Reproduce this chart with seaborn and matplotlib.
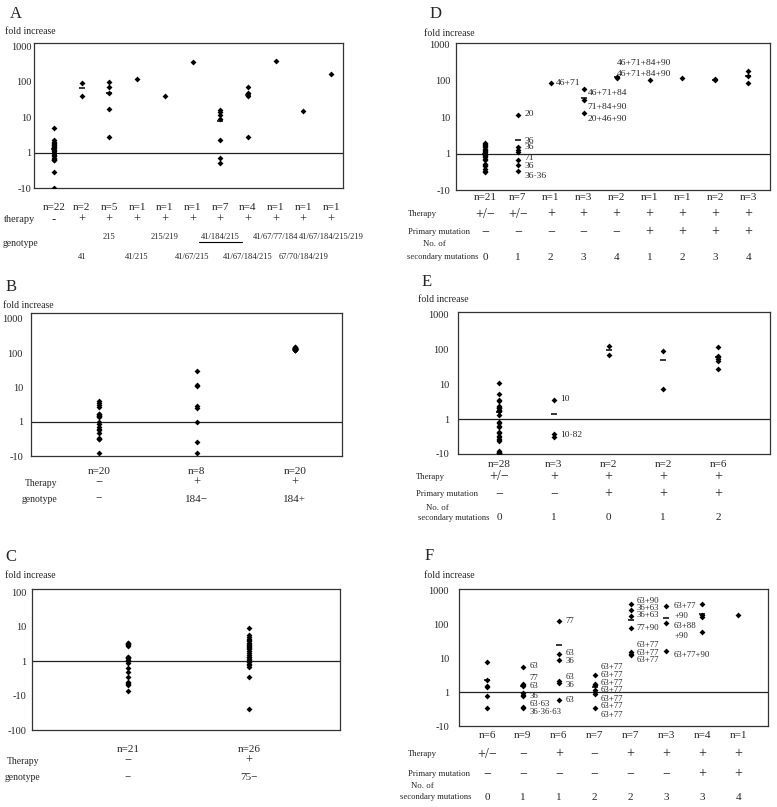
import numpy as np
import pandas as pd
import matplotlib
matplotlib.use("Agg")
import matplotlib.pyplot as plt
import seaborn as sns
from matplotlib.transforms import blended_transform_factory
from matplotlib.ticker import NullLocator
from matplotlib.lines import Line2D

# ---------------- data (fold change; values < 1 are fold decreases) ----------------
A_groups = [
    [5.0, 2.2, 2.0, 1.9, 1.75, 1.6, 1.5, 1.4, 1.3, 1.15, 1.1, 1.0, 1.0, 0.95, 0.87, 0.8, 0.68, 0.65, 0.63, 0.6, 0.29, 0.1],
    [93, 38],
    [100, 72, 49, 17, 2.8],
    [120],
    [40],
    [360],
    [16, 13.5, 11.7, 9, 2.2, 0.72, 0.52],
    [72, 49, 40, 2.8],
    [390],
    [15],
    [165],
]
A_therapy = ["-", "+", "+", "+", "+", "+", "+", "+", "+", "+", "+"]
A_genotype_top = ["", "", "215", "", "215/219", "", "41/184/215", "", "41/67/77/184", "", "41/67/184/215/219"]
A_genotype_bottom = ["", "41", "", "41/215", "", "41/67/215", "", "41/67/184/215", "", "67/70/184/219", ""]

B_groups = [
    [4.0, 3.55, 3.0, 2.6, 1.7, 1.65, 1.6, 1.5, 1.45, 1.4, 1.0, 0.86, 0.72, 0.6, 0.57, 0.48, 0.34, 0.32, 0.31, 0.12],
    [30, 11.5, 10.8, 2.8, 2.5, 0.95, 0.25, 0.12],
    [150, 148, 145, 142, 140, 138, 137, 136, 135, 134, 133, 132, 131, 130, 129, 128, 127, 126, 125, 122],
]
B_therapy = ["\u2212", "+", "+"]
B_genotype = ["\u2212", "184\u2212", "184+"]

C_groups = [
    [3.4, 3.3, 3.2, 3.1, 2.9, 2.7, 1.37, 1.3, 1.25, 1.2, 1.12, 1.0, 0.87, 0.64, 0.47, 0.35, 0.25, 0.24, 0.22, 0.21, 0.14],
    [9, 5.7, 4.9, 4.5, 4.1, 3.8, 3.4, 3.2, 2.9, 2.8, 2.6, 2.5, 2.3, 2.0, 1.7, 1.5, 1.37, 1.3, 1.17, 1.05,
     0.93, 0.85, 0.78, 0.7, 0.35, 0.04],
]
C_therapy = ["\u2212", "+"]
C_genotype = ["\u2212", "75\u2212"]

D_groups = [
    [2.0, 1.85, 1.74, 1.6, 1.47, 1.35, 1.24, 1.15, 1.07, 1.0, 0.92, 0.85, 0.78, 0.7, 0.65, 0.53, 0.5, 0.45, 0.37, 0.33, 0.31],
    [11.6, 1.47, 1.24, 1.07, 0.66, 0.50, 0.33],
    [88],
    [57, 29, 13.2],
    [125, 118],
    [105],
    [121],
    [108, 103],
    [186, 135, 85],
]
D_therapy = ["+/\u2212", "+/\u2212", "+", "+", "+", "+", "+", "+", "+"]
D_primary = ["\u2212", "\u2212", "\u2212", "\u2212", "\u2212", "+", "+", "+", "+"]
D_secondary = ["0", "1", "2", "3", "4", "1", "2", "3", "4"]
D_notes = [(1, 12.4, "20"), (1, 2.25, "36"), (1, 1.47, "36"), (1, 0.77, "71"), (1, 0.45, "36"),
           (1, 0.24, "36\u00b736"), (2, 88, "46+71"), (3, 45, "46+71+84"), (3, 19, "71+84+90"),
           (3, 8.6, "20+46+90"), (4, 300, "46+71+84+90"), (4, 154, "46+71+84+90")]

E_groups = [
    [11, 5.3, 3.4, 3.2, 2.4, 2.2, 2.1, 2.0, 1.85, 1.75, 1.66, 1.27, 0.8, 0.75, 0.62, 0.58, 0.42, 0.4,
     0.33, 0.3, 0.26, 0.25, 0.23, 0.12, 0.115, 0.11, 0.107, 0.105],
    [3.6, 0.37, 0.3],
    [120, 69],
    [90, 7.2],
    [114, 65, 59, 52, 47, 27],
]
E_therapy = ["+/\u2212", "+", "+", "+", "+"]
E_primary = ["\u2212", "\u2212", "+", "+", "+"]
E_secondary = ["0", "1", "0", "1", "2"]
E_notes = [(1, 3.7, "10"), (1, 0.34, "10\u00b782")]

F_groups = [
    [7.5, 2.2, 1.5, 1.4, 0.75, 0.34],
    [5.3, 1.76, 1.65, 1.47, 0.93, 0.84, 0.78, 0.36, 0.34],
    [120, 13.4, 8.9, 2.05, 1.9, 0.6],
    [3.2, 1.76, 1.57, 1.12, 1.0, 0.9, 0.34],
    [400, 250, 175, 76, 15, 13.4, 12],
    [330, 107, 15.8],
    [400, 187, 160, 58],
    [187],
]
F_therapy = ["+/\u2212", "\u2212", "+", "\u2212", "+", "+", "+", "+"]
F_primary = ["\u2212", "\u2212", "\u2212", "\u2212", "\u2212", "\u2212", "+", "+"]
F_secondary = ["0", "1", "1", "2", "2", "3", "3", "4"]
F_notes = [(1, 5.9, "63"), (1, 2.6, "77"), (1, 1.47, "63"), (1, 0.78, "36"), (1, 0.44, "63\u00b763"),
           (1, 0.26, "36\u00b736\u00b763"),
           (2, 120, "77"), (2, 14, "63"), (2, 8.3, "36"), (2, 2.7, "63"), (2, 1.64, "36"), (2, 0.57, "63"),
           (3, 5.6, "63+77"), (3, 3.1, "63+77"), (3, 1.9, "63+77"), (3, 1.15, "63+77"), (3, 0.64, "63+77"),
           (3, 0.38, "63+77"), (3, 0.21, "63+77"),
           (4, 480, "63+90"), (4, 300, "36+63"), (4, 188, "36+63"), (4, 76, "77+90"), (4, 24, "63+77"),
           (4, 14.5, "63+77"), (4, 8.8, "63+77"),
           (5, 330, "63+77"), (5, 176, "+90"), (5, 85, "63+88"), (5, 45, "+90"), (5, 12.5, "63+77+90")]

TICKS3 = [1000, 100, 10, 1, 0.1]
TICKLABELS3 = ["1000", "100", "10", "1", "-10"]
TICKS_C = [100, 10, 1, 0.1, 0.01]
TICKLABELS_C = ["100", "10", "1", "-10", "-100"]

# ---------------- figure ----------------
W, H = 777, 807
sns.set_style("white")
plt.rcParams["font.family"] = ["Liberation Serif", "DejaVu Serif"]
fig = plt.figure(figsize=(W / 100, H / 100), dpi=100)


def fx(x):
    return x / W


def fy(y):
    return 1 - y / H


def panel(rect, groups, xlim, ylog, ticks, ticklabels, n_y, pad, mean=True):
    l, t, r, b = rect
    ax = fig.add_axes([l / W, 1 - b / H, (r - l) / W, (b - t) / H])
    order = [str(i) for i in range(len(groups))]
    df = pd.DataFrame({
        "group": [str(i) for i, g in enumerate(groups) for _ in g],
        "fold": [v for g in groups for v in g],
    })
    sns.stripplot(data=df, x="group", y="fold", order=order, jitter=False, color="black",
                  marker="D", size=3.0, linewidth=0, ax=ax, zorder=3)
    if mean:
        st = df.groupby("group")["fold"].agg(["mean", "size"]).reindex(order)
        st = st[st["size"] > 1]
        ax.scatter([order.index(k) for k in st.index], st["mean"], marker="_", s=24,
                   color="black", linewidths=1.1, zorder=3)
    ax.set_yscale("log")
    ax.set_yticks(ticks)
    ax.set_yticklabels(ticklabels)
    ax.yaxis.set_minor_locator(NullLocator())
    ax.set_ylim(10 ** ylog[0], 10 ** ylog[1])
    ax.set_xlim(*xlim)
    ax.set_xticks([])
    ax.set_xlabel("")
    ax.set_ylabel("")
    ax.tick_params(axis="y", length=0, pad=pad, labelsize=7.5)
    ax.axhline(1, color="#222222", lw=0.9, zorder=2)
    for s in ax.spines.values():
        s.set_visible(True)
        s.set_color("#333333")
        s.set_linewidth(0.9)
    tr = blended_transform_factory(ax.transData, fig.transFigure)
    for i, g in enumerate(groups):
        ax.text(i, fy(n_y), f"n={len(g)}", transform=tr, ha="center", va="center", fontsize=8)
    return ax, tr


def row(ax, tr, y, labels, fs):
    out = []
    for i, s in enumerate(labels):
        if s:
            out.append(ax.text(i, fy(y), s, transform=tr, ha="center", va="center", fontsize=fs))
    return out


def ftext(x, y, s, fs, ha="left", **kw):
    return fig.text(fx(x), fy(y), s, ha=ha, va="center", fontsize=fs, **kw)


def notes(ax, items, dx, fs=6.8):
    for c, y, s in items:
        ax.annotate(s, xy=(c, y), xytext=(dx.get(c, 4), 0), textcoords="offset points",
                    ha="left", va="center", fontsize=fs)


# ---- Panel A ----
axA, trA = panel((34, 43, 343, 188), A_groups, (-0.72, 10.43), (-1, 3.085), TICKS3, TICKLABELS3, 207, 2)
row(axA, trA, 220, A_therapy, 9)
gtop = row(axA, trA, 237, A_genotype_top, 6.1)
row(axA, trA, 257, A_genotype_bottom, 6.1)
ftext(10, 14, "A", 12)
ftext(5, 32, "fold increase", 7)
ftext(4, 220, "therapy", 7.5)
ftext(3, 243, "genotype", 7)

# ---- Panel B ----
axB, trB = panel((31, 313, 342, 456), B_groups, (-0.69, 2.48), (-1, 3.17), TICKS3, TICKLABELS3, 472, 5.8, mean=False)
row(axB, trB, 483, B_therapy, 9)
row(axB, trB, 499, B_genotype, 8)
ftext(6, 287, "B", 12)
ftext(3, 305, "fold increase", 7)
ftext(25, 483, "Therapy", 7)
ftext(22, 499, "genotype", 7)

# ---- Panel C ----
axC, trC = panel((32, 589, 340, 730), C_groups, (-0.79, 1.75), (-2, 2.1), TICKS_C, TICKLABELS_C, 749, 4.3, mean=False)
row(axC, trC, 761, C_therapy, 9)
row(axC, trC, 778, C_genotype, 8)
ftext(5, 557, "C", 12)
ftext(5, 575, "fold increase", 7)
ftext(7, 761, "Therapy", 7)
ftext(5, 778, "genotype", 7)

# ---- Panel D ----
axD, trD = panel((456, 43, 770, 190), D_groups, (-0.88, 8.66), (-1, 3.03), TICKS3, TICKLABELS3, 197, 4.3)
row(axD, trD, 214, D_therapy, 10)
row(axD, trD, 232, D_primary, 10)
row(axD, trD, 257, D_secondary, 8)
notes(axD, D_notes, {1: 5, 2: 4, 3: 3, 4: 0.5})
ftext(430, 14, "D", 12)
ftext(424, 34, "fold increase", 7)
ftext(408, 214, "Therapy", 6.3)
ftext(408, 232, "Primary mutation", 6.3)
ftext(434, 244, "No. of", 6.3, ha="center")
ftext(407, 257, "secondary mutations", 6.2)

# ---- Panel E ----
axE, trE = panel((458, 312, 770, 454), E_groups, (-0.75, 4.95), (-1, 3.06), TICKS3, TICKLABELS3, 464, 6.5)
row(axE, trE, 477, E_therapy, 10)
row(axE, trE, 494, E_primary, 10)
row(axE, trE, 518, E_secondary, 8)
notes(axE, E_notes, {1: 4.5})
ftext(422, 282, "E", 12)
ftext(418, 299, "fold increase", 7)
ftext(416, 477, "Therapy", 6.3)
ftext(416, 494, "Primary mutation", 6.3)
ftext(437, 508, "No. of", 6.3, ha="center")
ftext(418, 518, "secondary mutations", 6.2)

# ---- Panel F ----
axF, trF = panel((459, 589, 768, 726), F_groups, (-0.78, 7.83), (-1, 3.03), TICKS3, TICKLABELS3, 736, 7.2)
row(axF, trF, 754, F_therapy, 10)
row(axF, trF, 774, F_primary, 10)
row(axF, trF, 797, F_secondary, 8)
notes(axF, F_notes, {1: 5, 2: 5, 3: 4.5, 4: 4.5, 5: 5.5}, fs=6.3)
ftext(425, 556, "F", 12)
ftext(424, 575, "fold increase", 7)
ftext(408, 754, "Therapy", 6.3)
ftext(408, 774, "Primary mutation", 6.3)
ftext(422, 786, "No. of", 6.3, ha="center")
ftext(400, 797, "secondary mutations", 6.2)

# underline under the 41/184/215 genotype label of panel A
fig.canvas.draw()
for t in gtop:
    if t.get_text() == "41/184/215":
        bb = t.get_window_extent()
        inv = fig.transFigure.inverted()
        (x0, y0), (x1, _) = inv.transform([(bb.x0 - 2, bb.y0 - 1), (bb.x1 + 2, bb.y0 - 1)])
        fig.add_artist(Line2D([x0, x1], [y0, y0], color="black", lw=0.8, transform=fig.transFigure))

fig.savefig("out.png", dpi=100, facecolor="white")
